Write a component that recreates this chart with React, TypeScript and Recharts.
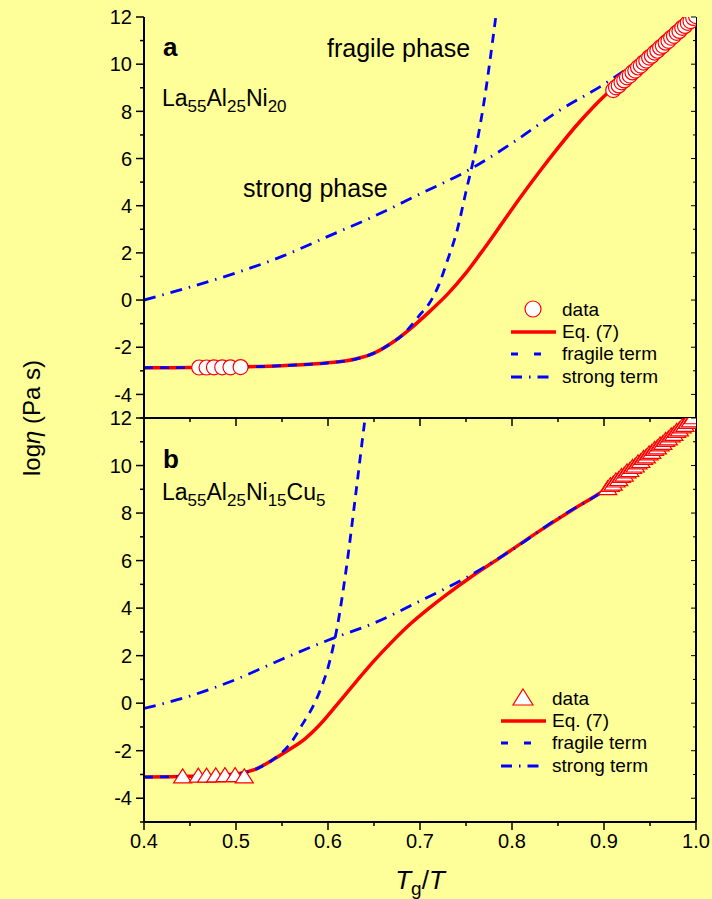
import React from 'react';
import { ComposedChart, Line, Scatter, XAxis, YAxis } from 'recharts';

const FONT = 'Arial, "Liberation Sans", sans-serif';
const RED = '#FF0000';
const BLUE = '#0000FF';
const BG = '#FFFF99';

// x ticks (major every 0.1, minor every 0.05) and y ticks (major every 2)
const xTicks = [0.4, 0.45, 0.5, 0.55, 0.6, 0.65, 0.7, 0.75, 0.8, 0.85, 0.9, 0.95, 1.0];
const yTicks = [-5, -4, -3, -2, -1, 0, 1, 2, 3, 4, 5, 6, 7, 8, 9, 10, 11, 12];

// ---- panel a : La55Al25Ni20 ----
const eqA: [number, number][] = [
  [0.40, -2.87], [0.45, -2.86], [0.50, -2.84], [0.55, -2.78], [0.60, -2.66], [0.63, -2.5],
  [0.65, -2.25], [0.67, -1.8], [0.69, -1.2], [0.71, -0.5], [0.73, 0.25], [0.75, 1.15],
  [0.77, 2.2], [0.79, 3.3], [0.81, 4.4], [0.83, 5.45], [0.85, 6.45], [0.87, 7.4],
  [0.89, 8.25], [0.91, 9.0], [0.93, 9.7], [0.95, 10.4], [0.975, 11.2], [1.0, 12.0],
];
const fragileA: [number, number][] = [
  [0.40, -2.87], [0.50, -2.84], [0.55, -2.78], [0.60, -2.66], [0.63, -2.5], [0.65, -2.25],
  [0.67, -1.8], [0.68, -1.52], [0.69, -1.1], [0.70, -0.62], [0.71, -0.15], [0.72, 0.6],
  [0.73, 1.7], [0.74, 2.9], [0.75, 4.6], [0.76, 6.3], [0.77, 8.5], [0.78, 11.3], [0.784, 12.5],
];
const strongA: [number, number][] = [
  [0.40, 0.0], [0.45, 0.55], [0.50, 1.15], [0.55, 1.85], [0.60, 2.7], [0.65, 3.55],
  [0.70, 4.5], [0.75, 5.45], [0.80, 6.65], [0.85, 8.0], [0.90, 9.15], [0.95, 10.5], [1.0, 12.0],
];
const dataA: [number, number][] = [
  [0.460, -2.86], [0.468, -2.86], [0.476, -2.85], [0.485, -2.85], [0.494, -2.85], [0.505, -2.84],
  [0.910, 8.90], [0.913, 9.02], [0.916, 9.10], [0.919, 9.23], [0.922, 9.31], [0.925, 9.44],
  [0.928, 9.52], [0.931, 9.65], [0.934, 9.73], [0.937, 9.86], [0.940, 9.94], [0.943, 10.07],
  [0.946, 10.15], [0.949, 10.28], [0.952, 10.36], [0.955, 10.49], [0.958, 10.57], [0.961, 10.70],
  [0.964, 10.78], [0.967, 10.91], [0.970, 10.99], [0.973, 11.12], [0.976, 11.20], [0.979, 11.33],
  [0.982, 11.41], [0.985, 11.54], [0.988, 11.62], [0.991, 11.75], [0.994, 11.83], [0.997, 11.96],
  [1.000, 12.04],
];

// ---- panel b : La55Al25Ni15Cu5 ----
const eqB: [number, number][] = [
  [0.40, -3.11], [0.45, -3.08], [0.50, -2.98], [0.52, -2.8], [0.54, -2.38], [0.555, -2.02],
  [0.575, -1.5], [0.59, -0.95], [0.61, -0.05], [0.63, 0.88], [0.65, 1.78], [0.67, 2.6],
  [0.69, 3.35], [0.71, 4.0], [0.73, 4.6], [0.755, 5.3], [0.79, 6.2], [0.83, 7.25],
  [0.865, 8.12], [0.90, 8.95], [0.95, 10.45], [1.0, 12.0],
];
const fragileB: [number, number][] = [
  [0.40, -3.11], [0.45, -3.08], [0.50, -2.98], [0.52, -2.8], [0.54, -2.38], [0.55, -2.08],
  [0.56, -1.65], [0.573, -0.84], [0.58, -0.4], [0.59, 0.4], [0.60, 1.5], [0.61, 3.2],
  [0.62, 5.7], [0.63, 8.75], [0.64, 11.9], [0.643, 12.8],
];
const strongB: [number, number][] = [
  [0.40, -0.22], [0.45, 0.3], [0.50, 1.0], [0.55, 1.85], [0.60, 2.65], [0.65, 3.37],
  [0.70, 4.3], [0.75, 5.28], [0.80, 6.45], [0.85, 7.78], [0.90, 8.95], [0.95, 10.45], [1.0, 12.0],
];
const dataB: [number, number][] = [
  [0.442, -3.1], [0.459, -3.07], [0.468, -3.07], [0.478, -3.06], [0.488, -3.05], [0.499, -3.05], [0.509, -3.1],
  [0.904, 9.03], [0.907, 9.16], [0.910, 9.22], [0.913, 9.35], [0.916, 9.41], [0.919, 9.54],
  [0.922, 9.60], [0.925, 9.73], [0.928, 9.79], [0.931, 9.92], [0.934, 9.98], [0.937, 10.11],
  [0.940, 10.17], [0.943, 10.30], [0.946, 10.36], [0.949, 10.49], [0.952, 10.55], [0.955, 10.68],
  [0.958, 10.74], [0.961, 10.87], [0.964, 10.93], [0.967, 11.06], [0.970, 11.12], [0.973, 11.25],
  [0.976, 11.31], [0.979, 11.44], [0.982, 11.50], [0.985, 11.63], [0.988, 11.69], [0.991, 11.82],
  [0.994, 11.88], [0.997, 12.01],
];

const pts = (a: [number, number][]) => a.map(([x, y]) => ({ x, y }));
const majorX = (v: number) => Math.abs(v * 10 - Math.round(v * 10)) < 1e-6;
const majorY = (v: number) => Math.abs(v % 2) < 1e-6;

const CircleMark = (p: any) => (
  <circle cx={p.cx} cy={p.cy} r={7.5} fill="#fff" stroke={RED} strokeWidth={1.2} />
);
const TriMark = (p: any) => (
  <path
    d={`M${p.cx},${p.cy - 8}L${p.cx + 9},${p.cy + 6}L${p.cx - 9},${p.cy + 6}Z`}
    fill="#fff"
    stroke={RED}
    strokeWidth={1.2}
  />
);

const bottomTick = (labels: boolean) => (p: any) => {
  const v = p.payload.value;
  const len = majorX(v) ? 8 : 4;
  return (
    <g>
      <line x1={p.x} x2={p.x} y1={p.y} y2={p.y + len} stroke="#000" strokeWidth={1.5} />
      {labels && majorX(v) && (
        <text x={p.x} y={p.y + 26} textAnchor="middle" fontSize={20} fill="#000" fontFamily={FONT}>
          {v.toFixed(1)}
        </text>
      )}
    </g>
  );
};

const leftTick = (p: any) => {
  const v = p.payload.value;
  const len = majorY(v) ? 8 : 4;
  return (
    <g>
      <line x1={p.x - len} x2={p.x} y1={p.y} y2={p.y} stroke="#000" strokeWidth={1.5} />
      {majorY(v) && v > -5 && (
        <text x={p.x - 12} y={p.y} dy="0.36em" textAnchor="end" fontSize={20} fill="#000" fontFamily={FONT}>
          {v}
        </text>
      )}
    </g>
  );
};

const rightTick = (p: any) => {
  const v = p.payload.value;
  const len = majorY(v) ? 5 : 3;
  return <line x1={p.x - len} x2={p.x} y1={p.y} y2={p.y} stroke="#000" strokeWidth={1} />;
};

const axisLine = { stroke: '#000', strokeWidth: 2 };

function Panel(props: {
  height: number;
  top: number;
  labels: boolean;
  xH: number;
  eq: [number, number][];
  fragile: [number, number][];
  strong: [number, number][];
  data: [number, number][];
  mark: (p: any) => React.ReactElement;
}) {
  const { height, top, labels, xH, eq, fragile, strong, data, mark } = props;
  return (
    <ComposedChart width={712} height={height} margin={{ top, right: 15, bottom: 0, left: 84 }}>
      <XAxis
        xAxisId="b"
        dataKey="x"
        type="number"
        domain={[0.4, 1.0]}
        ticks={xTicks}
        interval={0}
        allowDataOverflow
        height={xH}
        tickSize={0}
        tickMargin={0}
        tickLine={false}
        axisLine={axisLine}
        tick={bottomTick(labels)}
      />
      <XAxis
        xAxisId="t"
        orientation="top"
        type="number"
        domain={[0.4, 1.0]}
        allowDataOverflow
        height={0}
        tick={false}
        tickLine={false}
        axisLine={axisLine}
      />
      <YAxis
        yAxisId="l"
        dataKey="y"
        type="number"
        domain={[-5, 12]}
        ticks={yTicks}
        interval={0}
        allowDataOverflow
        width={60}
        tickSize={0}
        tickMargin={0}
        tickLine={false}
        axisLine={axisLine}
        tick={leftTick}
      />
      <YAxis
        yAxisId="r"
        orientation="right"
        type="number"
        domain={[-5, 12]}
        ticks={yTicks}
        interval={0}
        allowDataOverflow
        width={1}
        tickSize={0}
        tickMargin={0}
        tickLine={false}
        axisLine={axisLine}
        tick={rightTick}
      />
      <Scatter
        xAxisId="b"
        yAxisId="l"
        data={pts(data)}
        dataKey="y"
        shape={mark}
        isAnimationActive={false}
      />
      <Line
        xAxisId="b"
        yAxisId="l"
        data={pts(eq)}
        dataKey="y"
        type="monotone"
        stroke={RED}
        strokeWidth={3.5}
        dot={false}
        activeDot={false}
        isAnimationActive={false}
      />
      <Line
        xAxisId="b"
        yAxisId="l"
        data={pts(fragile)}
        dataKey="y"
        type="monotone"
        stroke={BLUE}
        strokeWidth={2.8}
        strokeDasharray="9 7"
        dot={false}
        activeDot={false}
        isAnimationActive={false}
      />
      <Line
        xAxisId="b"
        yAxisId="l"
        data={pts(strong)}
        dataKey="y"
        type="monotone"
        stroke={BLUE}
        strokeWidth={2.8}
        strokeDasharray="12 7 1.5 7"
        dot={false}
        activeDot={false}
        isAnimationActive={false}
      />
    </ComposedChart>
  );
}

function LegendBox({ y0, x0, mark }: { y0: number; x0: number; mark: 'circle' | 'tri' }) {
  // y0 = centre of first row, x0 = left of line samples
  const tx = x0 + 51;
  return (
    <g fontFamily={FONT} fontSize={19} fill="#000">
      {mark === 'circle' ? (
        <circle cx={x0 + 22} cy={y0} r={8} fill="#fff" stroke={RED} strokeWidth={1.2} />
      ) : (
        <path
          d={`M${x0 + 22},${y0 - 9}L${x0 + 32},${y0 + 7}L${x0 + 12},${y0 + 7}Z`}
          fill="#fff"
          stroke={RED}
          strokeWidth={1.2}
        />
      )}
      <text x={tx} y={y0 + 7}>data</text>
      <line x1={x0} x2={x0 + 45} y1={y0 + 23} y2={y0 + 23} stroke={RED} strokeWidth={3.5} />
      <text x={tx} y={y0 + 29}>Eq. (7)</text>
      <line x1={x0} x2={x0 + 30} y1={y0 + 45} y2={y0 + 45} stroke={BLUE} strokeWidth={2.8} strokeDasharray="7 16" />
      <text x={tx} y={y0 + 51}>fragile term</text>
      <line x1={x0} x2={x0 + 40} y1={y0 + 68} y2={y0 + 68} stroke={BLUE} strokeWidth={2.8} strokeDasharray="11 7 1.5 7" />
      <text x={tx} y={y0 + 74}>strong term</text>
    </g>
  );
}

export default function App() {
  return (
    <div
      style={{
        position: 'absolute',
        left: 0,
        top: 0,
        width: 712,
        height: 899,
        background: BG,
        overflow: 'hidden',
        fontFamily: FONT,
      }}
    >
      <div style={{ position: 'absolute', left: 0, top: 0 }}>
        <Panel height={430} top={17} labels={false} xH={12} eq={eqA} fragile={fragileA} strong={strongA} data={dataA} mark={CircleMark} />
      </div>
      <div style={{ position: 'absolute', left: 0, top: 400 }}>
        <Panel height={482} top={18} labels xH={60} eq={eqB} fragile={fragileB} strong={strongB} data={dataB} mark={TriMark} />
      </div>
      <svg width={712} height={899} style={{ position: 'absolute', left: 0, top: 0, pointerEvents: 'none' }}>
        <g fontFamily={FONT} fill="#000">
          <text x={163} y={56} fontSize={26} fontWeight="bold">a</text>
          <text x={162} y={106} fontSize={23}>
            La<tspan fontSize={17} dy={6}>55</tspan>
            <tspan dy={-6}>Al</tspan>
            <tspan fontSize={17} dy={6}>25</tspan>
            <tspan dy={-6}>Ni</tspan>
            <tspan fontSize={17} dy={6}>20</tspan>
          </text>
          <text x={327} y={57} fontSize={25}>fragile phase</text>
          <text x={243} y={197} fontSize={25}>strong phase</text>

          <text x={163} y={468} fontSize={26} fontWeight="bold">b</text>
          <text x={162} y={500} fontSize={23}>
            La<tspan fontSize={17} dy={6}>55</tspan>
            <tspan dy={-6}>Al</tspan>
            <tspan fontSize={17} dy={6}>25</tspan>
            <tspan dy={-6}>Ni</tspan>
            <tspan fontSize={17} dy={6}>15</tspan>
            <tspan dy={-6}>Cu</tspan>
            <tspan fontSize={17} dy={6}>5</tspan>
          </text>

          <text x={40} y={418} fontSize={24} textAnchor="middle" transform="rotate(-90 40 418)">
            log<tspan fontStyle="italic">η</tspan> (Pa s)
          </text>
          <text x={420} y={889} fontSize={26} textAnchor="middle">
            <tspan fontStyle="italic">T</tspan>
            <tspan fontSize={19} dy={6}>g</tspan>
            <tspan dy={-6}>/</tspan>
            <tspan fontStyle="italic">T</tspan>
          </text>
        </g>
        <LegendBox x0={511} y0={309} mark="circle" />
        <LegendBox x0={501} y0={698} mark="tri" />
      </svg>
    </div>
  );
}
